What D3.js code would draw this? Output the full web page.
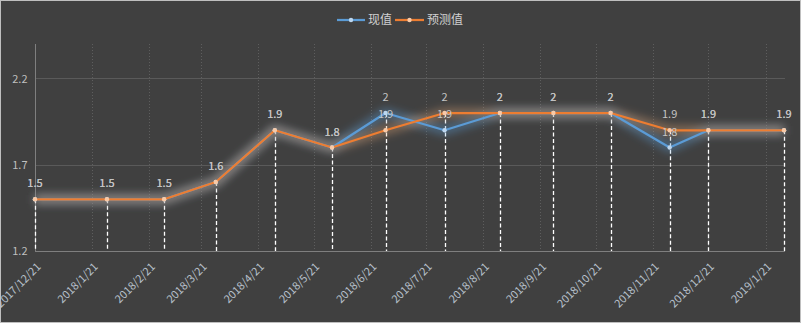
<!DOCTYPE html>
<html><head><meta charset="utf-8">
<script src="https://cdn.jsdelivr.net/npm/d3@7"></script>
<style>html,body{margin:0;padding:0;background:#404040;}svg{display:block;}</style>
</head><body>
<svg id="c" width="801" height="323"></svg>
<script>
const dates = ["2017-12-21","2018-01-29","2018-03-01","2018-03-29","2018-04-30","2018-05-31","2018-06-29","2018-07-31","2018-08-30","2018-09-28","2018-10-29","2018-11-30","2018-12-21","2019-01-31"];
const actual = [1.5,1.5,1.5,1.6,1.9,1.8,2.0,1.9,2.0,2.0,2.0,1.8,1.9,1.9];
const forecast = [1.5,1.5,1.5,1.6,1.9,1.8,1.9,2.0,2.0,2.0,2.0,1.9,1.9,1.9];
const tickDates = ["2017-12-21","2018-01-21","2018-02-21","2018-03-21","2018-04-21","2018-05-21","2018-06-21","2018-07-21","2018-08-21","2018-09-21","2018-10-21","2018-11-21","2018-12-21","2019-01-21"];
const yTicks = [1.2,1.7,2.2];
const seriesNames = ["现值","预测值"];

const parse = d3.timeParse("%Y-%m-%d");
const fmt = d3.timeFormat("%Y/%-m/%-d");
const D = dates.map(parse);
const T = tickDates.map(parse);

const svg = d3.select("#c");
const L = 35, R = 784, TOP = 44, B = 251;
const x = d3.scaleTime().domain(d3.extent(D)).range([L, R]);
const y = d3.scaleLinear().domain([1.2, 2.4]).range([B, TOP]);
const font = "'Noto Sans CJK SC','Noto Sans',sans-serif";

svg.append("rect").attr("x",0.5).attr("y",0.5).attr("width",800).attr("height",322)
  .attr("fill","#404040").attr("stroke","#bfbfbf").attr("stroke-width",1);

const defs = svg.append("defs");
["glowB","glowO"].forEach(id=>{
  defs.append("filter").attr("id",id).attr("x","-10%").attr("y","-50%").attr("width","120%").attr("height","200%")
    .append("feGaussianBlur").attr("stdDeviation",4);
});

// horizontal gridlines
svg.append("g").selectAll("line").data(yTicks.filter(v=>v>1.2)).join("line")
  .attr("x1",L).attr("x2",R+1).attr("y1",d=>Math.round(y(d))+0.5).attr("y2",d=>Math.round(y(d))+0.5)
  .attr("stroke","#5a5a5a").attr("stroke-width",1);
// vertical dotted gridlines
svg.append("g").selectAll("line").data(T.slice(1)).join("line")
  .attr("x1",d=>Math.round(x(d))+0.5).attr("x2",d=>Math.round(x(d))+0.5).attr("y1",TOP).attr("y2",B)
  .attr("stroke","#5e5e5e").attr("stroke-width",1).attr("stroke-dasharray","1,2");

// axes
const yAxis = d3.axisLeft(y).tickValues(yTicks).tickSize(0).tickPadding(8).tickFormat(d3.format(".1f"));
const gy = svg.append("g").attr("transform",`translate(${L+0.5},0)`).call(yAxis);
gy.select(".domain").attr("stroke","#7f7f7f").attr("d",`M0,${TOP}V${B}`);
gy.selectAll("text").attr("fill","#bfbfbf").style("font-family",font).style("font-size","11px");

const xAxis = d3.axisBottom(x).tickValues(T).tickSize(0).tickFormat(fmt);
const gx = svg.append("g").attr("transform",`translate(0,${B+0.5})`).call(xAxis);
gx.select(".domain").attr("stroke","#7f7f7f").attr("d",`M${L},0H${R+1}`);
gx.selectAll("text").attr("fill","#b8c0cc").style("font-family",font).style("font-size","11px")
  .attr("text-anchor","end").attr("dy",0).attr("y",0)
  .attr("transform","translate(6,16) rotate(-45)");

// drop lines
svg.append("g").selectAll("line").data(D).join("line")
  .attr("x1",d=>Math.round(x(d))+0.5).attr("x2",d=>Math.round(x(d))+0.5)
  .attr("y1",(d,i)=>y(Math.max(actual[i],forecast[i]))).attr("y2",B)
  .attr("stroke","#ffffff").attr("stroke-width",1.3).attr("stroke-dasharray","4,2.5");

const line = d3.line().x((d,i)=>x(D[i])).y(d=>y(d));
const series = [
  {vals: actual, color:"#5b9bd5", glow:"#5b9bd5", marker:"#bcd6ef", id:"glowB"},
  {vals: forecast, color:"#ed7d31", glow:"#d9a070", marker:"#f8c9a6", id:"glowO"}
];
series.forEach(s=>{
  svg.append("path").attr("d",line(s.vals)).attr("fill","none").attr("stroke",s.glow)
    .attr("stroke-width",9).attr("stroke-opacity",0.45).attr("filter",`url(#${s.id})`);
});
series.forEach(s=>{
  svg.append("path").attr("d",line(s.vals)).attr("fill","none").attr("stroke",s.color).attr("stroke-width",2.25)
    .attr("stroke-linejoin","round");
  svg.append("g").selectAll("circle").data(s.vals).join("circle")
    .attr("cx",(d,i)=>x(D[i])).attr("cy",d=>y(d)).attr("r",2.2).attr("fill",s.marker);
});
// data labels
series.forEach(s=>{
  svg.append("g").selectAll("text").data(s.vals).join("text")
    .attr("x",(d,i)=>x(D[i])).attr("y",d=>y(d)-12).attr("text-anchor","middle")
    .attr("fill","#c4c4c4").style("font-family",font).style("font-size","11px")
    .text(d=>d3.format("~g")(d));
});

// legend
const lg = svg.append("g");
const legendItems = [{x:337, w:28, tx:368, c:"#5b9bd5", m:"#bcd6ef"},{x:395, w:29, tx:427, c:"#ed7d31", m:"#f8c9a6"}];
legendItems.forEach((it,i)=>{
  lg.append("line").attr("x1",it.x).attr("x2",it.x+it.w).attr("y1",20).attr("y2",20).attr("stroke",it.c).attr("stroke-width",2.25);
  lg.append("circle").attr("cx",it.x+it.w/2).attr("cy",20).attr("r",2.2).attr("fill",it.m);
  lg.append("text").attr("x",it.tx).attr("y",20).attr("dy","0.35em").attr("fill","#d0d0d0")
    .style("font-family",font).style("font-size","12px").text(seriesNames[i]);
});
</script>
</body></html>
